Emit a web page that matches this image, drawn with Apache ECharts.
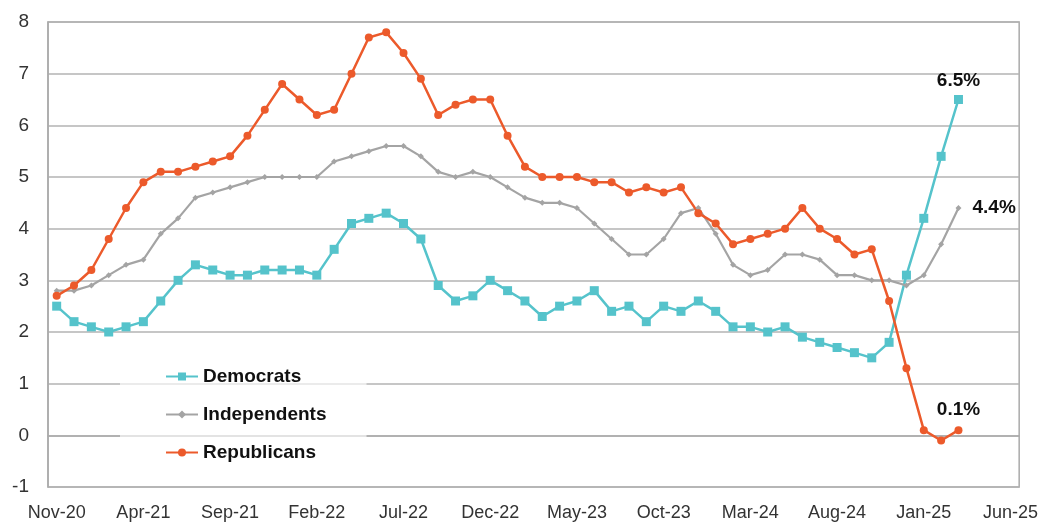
<!DOCTYPE html>
<html>
<head>
<meta charset="utf-8">
<script src="https://cdn.jsdelivr.net/npm/echarts@6/dist/echarts.min.js"></script>
<style>
  html, body { margin: 0; padding: 0; background: #fff; }
  #main { width: 1041px; height: 523px; }
</style>
</head>
<body>
<div id="main"></div>
<script>
// months Nov-20 .. Jun-25 (axis runs to Jun-25, data ends Mar-25)
const months = ['Nov-20','Dec-20','Jan-21','Feb-21','Mar-21','Apr-21','May-21','Jun-21','Jul-21','Aug-21',
  'Sep-21','Oct-21','Nov-21','Dec-21','Jan-22','Feb-22','Mar-22','Apr-22','May-22','Jun-22',
  'Jul-22','Aug-22','Sep-22','Oct-22','Nov-22','Dec-22','Jan-23','Feb-23','Mar-23','Apr-23',
  'May-23','Jun-23','Jul-23','Aug-23','Sep-23','Oct-23','Nov-23','Dec-23','Jan-24','Feb-24',
  'Mar-24','Apr-24','May-24','Jun-24','Jul-24','Aug-24','Sep-24','Oct-24','Nov-24','Dec-24',
  'Jan-25','Feb-25','Mar-25','Apr-25','May-25','Jun-25'];

const democrats = [2.5,2.2,2.1,2.0,2.1,2.2,2.6,3.0,3.3,3.2,
  3.1,3.1,3.2,3.2,3.2,3.1,3.6,4.1,4.2,4.3,
  4.1,3.8,2.9,2.6,2.7,3.0,2.8,2.6,2.3,2.5,
  2.6,2.8,2.4,2.5,2.2,2.5,2.4,2.6,2.4,2.1,
  2.1,2.0,2.1,1.9,1.8,1.7,1.6,1.5,1.8,3.1,
  4.2,5.4,6.5];

const independents = [2.8,2.8,2.9,3.1,3.3,3.4,3.9,4.2,4.6,4.7,
  4.8,4.9,5.0,5.0,5.0,5.0,5.3,5.4,5.5,5.6,
  5.6,5.4,5.1,5.0,5.1,5.0,4.8,4.6,4.5,4.5,
  4.4,4.1,3.8,3.5,3.5,3.8,4.3,4.4,3.9,3.3,
  3.1,3.2,3.5,3.5,3.4,3.1,3.1,3.0,3.0,2.9,
  3.1,3.7,4.4];

const republicans = [2.7,2.9,3.2,3.8,4.4,4.9,5.1,5.1,5.2,5.3,
  5.4,5.8,6.3,6.8,6.5,6.2,6.3,7.0,7.7,7.8,
  7.4,6.9,6.2,6.4,6.5,6.5,5.8,5.2,5.0,5.0,
  5.0,4.9,4.9,4.7,4.8,4.7,4.8,4.3,4.1,3.7,
  3.8,3.9,4.0,4.4,4.0,3.8,3.5,3.6,2.6,1.3,
  0.1,-0.1,0.1];

const FONT = '"Liberation Sans", Arial, sans-serif';

// put a bold "x.x%" label on the last point only
function withEndLabel(arr, pos, offset) {
  return arr.map((v, i) => {
    if (i !== arr.length - 1) return v;
    return {
      value: v,
      label: {
        show: true,
        position: pos,
        offset: offset,
        formatter: p => p.value.toFixed(1) + '%',
        fontFamily: FONT,
        fontSize: 19,
        fontWeight: 'bold',
        color: '#111'
      }
    };
  });
}

const chart = echarts.init(document.getElementById('main'));

const option = {
  animation: false,
  grid: {
    left: 48, right: 20, top: 22, bottom: 36,
    show: true, borderColor: '#aaa', borderWidth: 1.5
  },
  legend: {
    orient: 'vertical',
    left: 120, top: 359,
    padding: [8, 40, 14, 45],
    itemGap: 19,
    itemWidth: 32, itemHeight: 10,
    backgroundColor: 'rgba(255,255,255,0.65)',
    textStyle: { fontFamily: FONT, fontSize: 19, fontWeight: 'bold', color: '#111' },
    data: ['Democrats', 'Independents', 'Republicans']
  },
  xAxis: {
    type: 'category',
    data: months,
    boundaryGap: true,
    axisLine: { lineStyle: { color: '#aaa', width: 1.5 } },
    axisTick: { show: false },
    axisLabel: { interval: 4, fontFamily: FONT, fontSize: 18, color: '#333', margin: 17 }
  },
  yAxis: {
    type: 'value',
    min: -1, max: 8, interval: 1,
    axisLine: { show: true, lineStyle: { color: '#aaa', width: 1.5 } },
    axisTick: { show: false },
    axisLabel: { fontFamily: FONT, fontSize: 19, color: '#333', margin: 19 },
    splitLine: { lineStyle: { color: '#b3b3b3', width: 1.5 } }
  },
  series: [
    {
      name: 'Democrats', type: 'line',
      data: withEndLabel(democrats, 'top', [0, 0]),
      symbol: 'rect', symbolSize: 9,
      color: '#55c3cb',
      lineStyle: { width: 2.5 }
    },
    {
      name: 'Independents', type: 'line',
      data: withEndLabel(independents, 'right', [6, 0]),
      symbol: 'diamond', symbolSize: 6,
      color: '#a4a4a4',
      lineStyle: { width: 2.2 }
    },
    {
      name: 'Republicans', type: 'line',
      data: withEndLabel(republicans, 'top', [0, -2]),
      symbol: 'circle', symbolSize: 8,
      color: '#ec5a2b',
      lineStyle: { width: 2.5 }
    }
  ]
};

chart.setOption(option);
</script>
</body>
</html>
